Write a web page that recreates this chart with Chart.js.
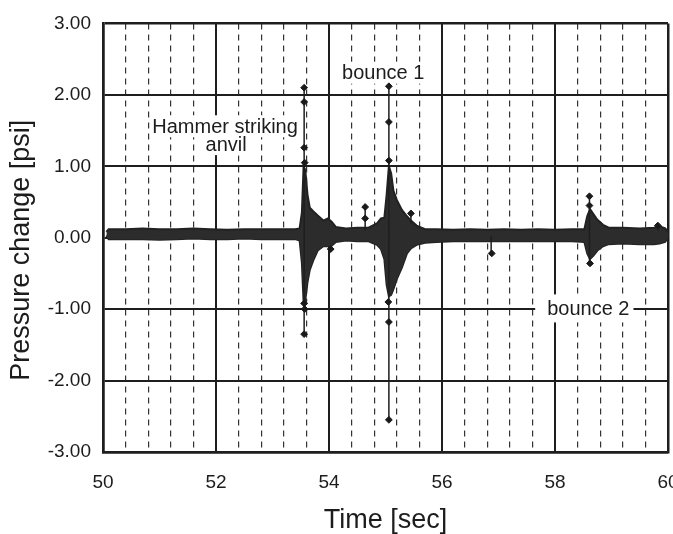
<!DOCTYPE html>
<html><head><meta charset="utf-8">
<script src="https://cdn.jsdelivr.net/npm/chart.js@4/dist/chart.umd.min.js"></script>
<style>html,body{margin:0;padding:0;background:#fff}#wrap{width:673px;height:534px}</style>
</head><body><div id="wrap"><canvas id="c" width="673" height="534"></canvas></div>
<script>
// ---- data ----
// envelope of the dense pressure trace (time [s], upper/lower edge [psi])
const envT  = [50.06,50.10,50.40,50.70,51.00,51.30,51.60,51.90,52.20,52.50,52.80,53.10,53.40,53.48,53.52,53.55,53.58,53.62,53.66,53.72,53.80,53.90,53.98,54.05,54.12,54.30,54.50,54.70,54.85,54.92,54.98,55.02,55.06,55.10,55.14,55.20,55.29,55.38,55.45,55.55,55.70,55.90,56.20,56.50,56.80,57.10,57.40,57.70,58.00,58.30,58.52,58.57,58.62,58.68,58.75,58.85,58.95,59.20,59.50,59.75,59.85,59.95,60.00];
const envHi = [0.08,0.12,0.12,0.13,0.12,0.12,0.13,0.12,0.11,0.12,0.12,0.12,0.12,0.13,0.35,1.00,0.95,0.60,0.42,0.37,0.31,0.24,0.27,0.22,0.15,0.13,0.14,0.14,0.20,0.27,0.28,0.60,1.00,0.90,0.66,0.53,0.39,0.30,0.24,0.17,0.12,0.12,0.11,0.12,0.11,0.12,0.11,0.12,0.11,0.12,0.12,0.30,0.40,0.33,0.25,0.18,0.14,0.14,0.13,0.14,0.16,0.13,0.08];
const envLo = [0.03,-0.02,-0.02,-0.02,-0.03,-0.02,-0.01,-0.02,-0.02,-0.01,-0.02,-0.02,-0.02,-0.04,-0.35,-0.90,-0.88,-0.62,-0.45,-0.32,-0.18,-0.12,-0.12,-0.11,-0.06,-0.04,-0.05,-0.05,-0.10,-0.16,-0.30,-0.66,-0.82,-0.80,-0.72,-0.58,-0.42,-0.22,-0.15,-0.10,-0.07,-0.06,-0.05,-0.05,-0.05,-0.05,-0.05,-0.05,-0.05,-0.05,-0.06,-0.22,-0.30,-0.25,-0.18,-0.12,-0.09,-0.08,-0.09,-0.09,-0.08,-0.06,0.00];
// isolated spikes (time, lowest and highest value)
const spikeT  = [53.56,55.06,54.64,56.87,58.61,59.82,55.45];
const spikeLo = [-1.35,-2.55,0.10,-0.22,-0.36,0.10,0.20];
const spikeHi = [2.10,2.12,0.43,0.02,0.58,0.17,0.34];
// individual sample markers visible on the spikes
const markT = [53.56,53.56,53.56,53.57,53.56,53.57,53.56,54.03,54.64,54.64,55.06,55.06,55.06,55.05,55.06,55.06,55.45,56.88,58.61,58.61,58.62,59.82];
const markV = [2.10,1.90,1.26,1.05,-0.92,-1.00,-1.35,-0.16,0.43,0.27,2.12,1.62,1.08,-0.90,-1.18,-2.55,0.34,-0.22,0.58,0.45,-0.36,0.17];
// axes
const xGridT = [50,50.4,50.8,51.2,51.6,52,52.4,52.8,53.2,53.6,54,54.4,54.8,55.2,55.6,56,56.4,56.8,57.2,57.6,58,58.4,58.8,59.2,59.6,60];
const xTickLabels = ['50','52','54','56','58','60'];
const yTickLabels = ['-3.00','-2.00','-1.00','0.00','1.00','2.00','3.00'];
const noteTexts = ['Hammer striking','anvil','bounce 1','bounce 2'];
const xTitle = 'Time [sec]';
const yTitle = 'Pressure change [psi]';

// ---- build ----
const FONT = '"Liberation Sans", Arial, Helvetica, sans-serif';
const isMajor = v => v !== undefined && Math.abs(v / 2 - Math.round(v / 2)) < 1e-6;
const isEdgeX = v => Math.abs(v - 50) < 1e-6 || Math.abs(v - 60) < 1e-6;

const spikeData = [];
spikeT.forEach((t, i) => {
  spikeData.push({x: t, y: spikeLo[i]}, {x: t, y: spikeHi[i]}, {x: t, y: null});
});

const notesPlugin = {
  id: 'notes',
  beforeDatasetsDraw(chart, args, opts) {
    const {ctx, scales: {x, y}} = chart;
    ctx.save();
    ctx.font = '20px ' + FONT;
    ctx.textAlign = 'center';
    ctx.textBaseline = 'middle';
    opts.items.forEach(n => {
      const px = x.getPixelForValue(n.t), py = y.getPixelForValue(n.v);
      const w = ctx.measureText(noteTexts[n.i]).width;
      ctx.fillStyle = '#fff';
      ctx.fillRect(px - w / 2 - n.padL, py - n.h / 2, w + n.padL + n.padR, n.h);
      ctx.fillStyle = '#1c1c1c';
      ctx.fillText(noteTexts[n.i], px, py + 1);
    });
    ctx.restore();
  },
  afterDraw(chart, args, opts) {
    const {ctx, chartArea} = chart;
    ctx.save();
    ctx.font = '27px ' + FONT;
    ctx.fillStyle = '#1c1c1c';
    ctx.textAlign = 'center';
    ctx.textBaseline = 'middle';
    ctx.translate(opts.titleX, (chartArea.top + chartArea.bottom) / 2 + opts.titleShift);
    ctx.rotate(-Math.PI / 2);
    ctx.fillText(yTitle, 0, 0);
    ctx.restore();
  }
};

new Chart(document.getElementById('c'), {
  type: 'line',
  data: {
    datasets: [
      {
        data: envT.map((t, i) => ({x: t, y: envHi[i]})),
        fill: '+1', backgroundColor: '#2c2c2c', borderColor: '#222', borderWidth: 2,
        pointRadius: 0, tension: 0, order: 2
      },
      {
        data: envT.map((t, i) => ({x: t, y: envLo[i]})),
        fill: false, borderColor: '#222', borderWidth: 2,
        pointRadius: 0, tension: 0, order: 2
      },
      {
        data: spikeData, borderColor: '#1e1e1e', borderWidth: 1.5, pointRadius: 0,
        spanGaps: false, fill: false, order: 1
      },
      {
        data: markT.map((t, i) => ({x: t, y: markV[i]})), showLine: false,
        pointStyle: 'rectRot', pointRadius: 3.4, backgroundColor: '#1a1a1a',
        borderColor: '#1a1a1a', borderWidth: 1, order: 0
      }
    ]
  },
  options: {
    responsive: false, animation: false, devicePixelRatio: 1,
    layout: {padding: {left: 0, right: 5, top: 18, bottom: 0}},
    plugins: {
      legend: {display: false}, tooltip: {enabled: false},
      notes: {
        titleX: 22, titleShift: 12.5,
        items: [
          {i: 0, t: 52.16, v: 1.56, h: 22, padL: 2, padR: 2},
          {i: 1, t: 52.18, v: 1.31, h: 22, padL: 2, padR: 2},
          {i: 2, t: 54.96, v: 2.31, h: 22, padL: 2, padR: 2},
          {i: 3, t: 58.59, v: -0.99, h: 28, padL: 12, padR: 4}
        ]
      }
    },
    scales: {
      x: {
        type: 'linear', min: 50, max: 60,
        afterBuildTicks: s => { s.ticks = xGridT.map(v => ({value: v})); },
        afterFit: s => { s.height = 82; s.paddingRight = 0; s.paddingLeft = 0; },
        ticks: {
          autoSkip: false, maxRotation: 0, minRotation: 0, padding: 19,
          color: '#1c1c1c', font: {family: FONT, size: 19},
          callback: v => { const l = xTickLabels.find(s => Math.abs(parseFloat(s) - v) < 1e-6); return l === undefined ? '' : l; }
        },
        grid: {
          drawTicks: false,
          color: c => isMajor(c.tick && c.tick.value) ? '#1e1e1e' : '#333',
          lineWidth: c => { const v = c.tick && c.tick.value; return isEdgeX(v) ? 2.5 : (isMajor(v) ? 2 : 1.2); }
        },
        border: {
          display: true, color: '#1e1e1e', width: 2.5,
          dash: c => (c.tick && !isMajor(c.tick.value)) ? [6, 5] : []
        },
        title: {display: true, text: xTitle, color: '#1c1c1c', font: {family: FONT, size: 27, lineHeight: 1}, padding: {top: 0, bottom: 0}}
      },
      y: {
        type: 'linear', min: -3, max: 3,
        afterFit: s => { s.width = 103; },
        ticks: {
          stepSize: 1, padding: 12, color: '#1c1c1c', font: {family: FONT, size: 19},
          callback: v => { const l = yTickLabels.find(s => Math.abs(parseFloat(s) - v) < 1e-6); return l === undefined ? '' : l; }
        },
        grid: {
          drawTicks: false, color: '#1e1e1e',
          lineWidth: c => { const v = c.tick && c.tick.value; return (v === 3 || v === -3) ? 2.5 : 2; }
        },
        border: {display: true, color: '#1e1e1e', width: 2.5}
      }
    }
  },
  plugins: [notesPlugin]
});
</script>
</body></html>
